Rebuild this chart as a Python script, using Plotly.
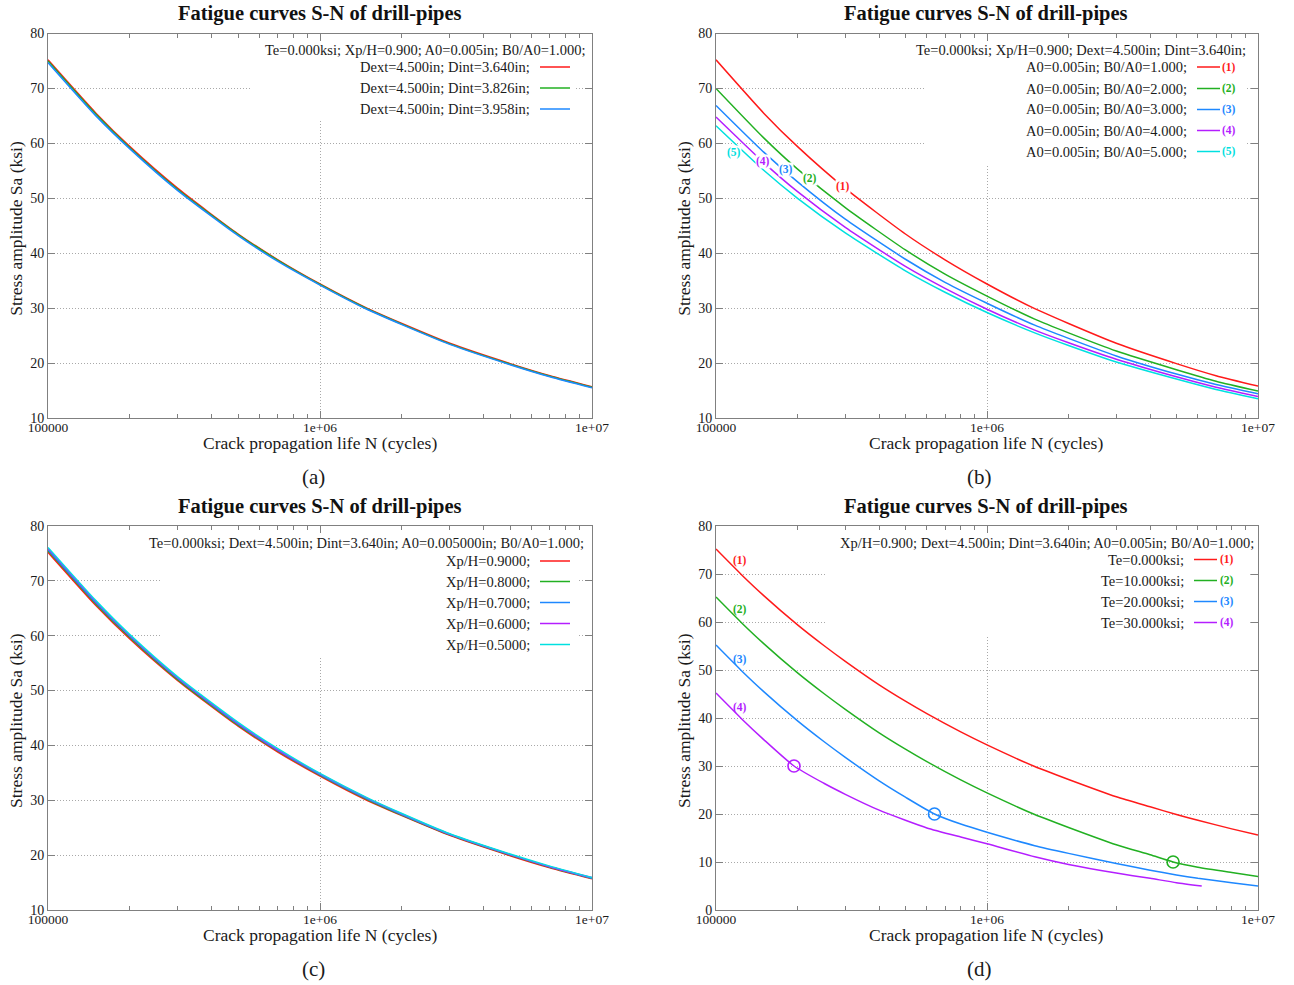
import math
import plotly.graph_objects as go

# The page's default body margin is removed (post_script), so the figure fills the window.
OFF = 0
W, H = 1294, 985
FONT = "Liberation Serif, Times New Roman, serif"
TXT = "#1a1a1a"
COLORS = ["#ff1a1a", "#22b022", "#1e88ff", "#b41eff", "#00e0e0"]

# ---------------- data ----------------
TITLE = "Fatigue curves S-N of drill-pipes"
XTITLE = "Crack propagation life N (cycles)"
YTITLE = "Stress amplitude Sa (ksi)"
X_TICKVALS = [1e5, 1e6, 1e7]
X_TICKTEXT = ["100000", "1e+06", "1e+07"]
CAPTIONS = ["(a)", "(b)", "(c)", "(d)"]

# panel (a)
N_A = [1e5, 1.5e5, 2e5, 3e5, 5e5, 7e5, 1e6, 1.5e6, 2e6, 3e6, 5e6, 7e6, 1e7]
A_S1 = [75.2, 65.5, 59.4, 51.8, 43.5, 38.8, 34.4, 29.9, 27.2, 23.6, 19.9, 17.7, 15.7]
A_S2 = [75.0, 65.3, 59.2, 51.6, 43.4, 38.7, 34.3, 29.8, 27.1, 23.5, 19.8, 17.6, 15.6]
A_S3 = [74.7, 65.0, 59.0, 51.4, 43.2, 38.5, 34.2, 29.7, 27.0, 23.4, 19.7, 17.5, 15.5]
A_KEY_TITLE = "Te=0.000ksi; Xp/H=0.900; A0=0.005in; B0/A0=1.000;"
A_KEYS = ["Dext=4.500in; Dint=3.640in;", "Dext=4.500in; Dint=3.826in;",
          "Dext=4.500in; Dint=3.958in;"]

# panel (b)
N_B = [1e5, 1.5e5, 2e5, 3e5, 5e5, 7e5, 1e6, 1.5e6, 2e6, 3e6, 5e6, 7e6, 1e7]
B_S1 = [75.2, 65.5, 59.4, 51.8, 43.5, 38.8, 34.4, 29.9, 27.2, 23.6, 19.9, 17.7, 15.8]
B_S2 = [70.0, 61.0, 55.3, 48.3, 40.6, 36.2, 32.2, 28.0, 25.5, 22.2, 18.8, 16.7, 14.9]
B_S3 = [66.9, 58.4, 53.0, 46.2, 38.9, 34.7, 30.9, 26.9, 24.5, 21.3, 18.0, 16.1, 14.4]
B_S4 = [64.8, 56.5, 51.2, 44.7, 37.6, 33.6, 29.8, 26.0, 23.7, 20.7, 17.5, 15.6, 13.9]
B_S5 = [63.2, 55.1, 50.0, 43.7, 36.8, 32.9, 29.2, 25.5, 23.2, 20.2, 17.1, 15.2, 13.5]
B_KEY_TITLE = "Te=0.000ksi; Xp/H=0.900; Dext=4.500in; Dint=3.640in;"
B_KEYS = ["A0=0.005in; B0/A0=1.000;", "A0=0.005in; B0/A0=2.000;",
          "A0=0.005in; B0/A0=3.000;", "A0=0.005in; B0/A0=4.000;",
          "A0=0.005in; B0/A0=5.000;"]
B_LABEL_N = [2.94e5, 2.22e5, 1.81e5, 1.49e5, 1.165e5]
B_LABEL_S = [52.2, 53.6, 55.3, 56.7, 58.4]

# panel (c)
N_C = [1e5, 1.5e5, 2e5, 3e5, 5e5, 7e5, 1e6, 1.5e6, 2e6, 3e6, 5e6, 7e6, 1e7]
C_S1 = [75.2, 65.5, 59.4, 51.8, 43.5, 38.8, 34.4, 29.9, 27.2, 23.6, 19.9, 17.7, 15.7]
C_S2 = [75.5, 65.8, 59.7, 52.0, 43.7, 39.0, 34.6, 30.1, 27.3, 23.7, 20.0, 17.8, 15.8]
C_S3 = [75.7, 66.0, 59.9, 52.2, 43.9, 39.1, 34.7, 30.2, 27.4, 23.8, 20.1, 17.9, 15.8]
C_S4 = [75.9, 66.2, 60.0, 52.3, 44.0, 39.2, 34.8, 30.3, 27.5, 23.8, 20.1, 17.9, 15.9]
C_S5 = [76.1, 66.4, 60.2, 52.5, 44.2, 39.4, 34.9, 30.4, 27.6, 23.9, 20.2, 18.0, 15.9]
C_KEY_TITLE = "Te=0.000ksi; Dext=4.500in; Dint=3.640in; A0=0.005000in; B0/A0=1.000;"
C_KEYS = ["Xp/H=0.9000;", "Xp/H=0.8000;", "Xp/H=0.7000;", "Xp/H=0.6000;", "Xp/H=0.5000;"]

# panel (d)
D_N1 = [1e5, 1.25e5, 1.5e5, 2e5, 2.5e5, 3e5, 4e5, 5e5, 6e5, 8e5, 1e6, 1.5e6, 2e6, 3e6, 4e6, 5e6, 6e6, 8e6, 1e7]
D_S1 = [75.2, 69.7, 65.5, 59.4, 55.1, 51.8, 46.9, 43.5, 40.9, 37.1, 34.4, 29.9, 27.2, 23.6, 21.5, 19.9, 18.7, 16.9, 15.6]
D_N2 = [1e5, 1.25e5, 1.5e5, 2e5, 2.5e5, 3e5, 4e5, 5e5, 6e5, 8e5, 1e6, 1.5e6, 2e6, 3e6, 4e6, 4.86e6, 6e6, 8e6, 1e7]
D_S2 = [65.2, 59.7, 55.5, 49.4, 45.1, 41.8, 36.9, 33.5, 30.9, 27.1, 24.4, 19.9, 17.2, 13.6, 11.5, 10.0, 8.9, 7.8, 7.0]
D_N3 = [1e5, 1.25e5, 1.5e5, 2e5, 2.5e5, 3e5, 4e5, 5e5, 6.4e5, 8e5, 1e6, 1.5e6, 2e6, 3e6, 4e6, 5e6, 6e6, 8e6, 1e7]
D_S3 = [55.2, 49.7, 45.5, 39.4, 35.1, 31.8, 26.9, 23.5, 20.0, 17.9, 16.2, 13.4, 11.8, 9.7, 8.3, 7.3, 6.6, 5.7, 5.0]
D_N4 = [1e5, 1.25e5, 1.5e5, 1.94e5, 2.5e5, 3e5, 4e5, 5e5, 6e5, 8e5, 1e6, 1.5e6, 2e6, 3e6, 4e6, 5e6, 6.2e6]
D_S4 = [45.2, 39.7, 35.5, 30.0, 26.4, 24.1, 20.8, 18.7, 17.1, 15.2, 13.8, 11.1, 9.5, 7.7, 6.6, 5.7, 5.0]
D_MARK_N = [4.86e6, 6.4e5, 1.94e5]
D_MARK_S = [10, 20, 30]
D_KEY_TITLE = "Xp/H=0.900; Dext=4.500in; Dint=3.640in; A0=0.005in; B0/A0=1.000;"
D_KEYS = ["Te=0.000ksi;", "Te=10.000ksi;", "Te=20.000ksi;", "Te=30.000ksi;"]
D_LABEL_N = [1.225e5, 1.225e5, 1.23e5, 1.23e5]
D_LABEL_S = [72.8, 62.7, 52.1, 42.1]
LABELS = ["(1)", "(2)", "(3)", "(4)", "(5)"]


# ---------------- layout helpers ----------------
def fx(px):
    return (px - OFF) / W


def fy(py):
    return 1 - (py - OFF) / H


PANELS = [
    dict(xa="x", ya="y", xd=(48, 592), yd=(33.5, 418), yr=(10, 80),
         curves=[(N_A, A_S1), (N_A, A_S2), (N_A, A_S3)],
         ktitle=A_KEY_TITLE, keys=A_KEYS, kt=(588, 50), kend=532,
         kys=[67, 88, 109], kline=(540, 570), klab=None,
         cover=(250, 34, 576, 120), cx=320, top=13),
    dict(xa="x2", ya="y2", xd=(716, 1258), yd=(33.5, 418), yr=(10, 80),
         curves=[(N_B, B_S1), (N_B, B_S2), (N_B, B_S3), (N_B, B_S4), (N_B, B_S5)],
         ktitle=B_KEY_TITLE, keys=B_KEYS, kt=(1248, 50), kend=1189,
         kys=[67, 88.5, 109.5, 130.5, 151.5], kline=(1197, 1220), klab=1229,
         cover=(925, 34, 1247, 165), cx=986, top=13),
    dict(xa="x3", ya="y3", xd=(48, 592), yd=(526, 910), yr=(10, 80),
         curves=[(N_C, C_S1), (N_C, C_S2), (N_C, C_S3), (N_C, C_S4), (N_C, C_S5)],
         ktitle=C_KEY_TITLE, keys=C_KEYS, kt=(586, 543), kend=532,
         kys=[561, 581.5, 602.5, 623.5, 644.5], kline=(540, 570), klab=None,
         cover=(160, 527, 578, 656), cx=320, top=506),
    dict(xa="x4", ya="y4", xd=(716, 1258), yd=(526, 910), yr=(0, 80),
         curves=[(D_N1, D_S1), (D_N2, D_S2), (D_N3, D_S3), (D_N4, D_S4)],
         ktitle=D_KEY_TITLE, keys=D_KEYS, kt=(1256, 542.5), kend=1186,
         kys=[559.5, 580.5, 601.5, 622.5], kline=(1194, 1217), klab=1227,
         cover=(827, 527, 1250, 635), cx=986, top=506),
]

fig = go.Figure()
shapes = []
annotations = []
layout = dict(width=W, height=H,
              margin=dict(l=0, r=0, t=0, b=0, pad=0, autoexpand=False),
              paper_bgcolor="white", plot_bgcolor="white", showlegend=False)

minor_vals = [k * 10 ** e for e in (5, 6) for k in range(2, 10)]
GRID = dict(showgrid=True, gridcolor="#a9a9a9", griddash="1px,2px", gridwidth=1)

for i, p in enumerate(PANELS):
    sfx = "" if i == 0 else str(i + 1)
    xd = [fx(p["xd"][0]), fx(p["xd"][1])]
    yd = [fy(p["yd"][1]), fy(p["yd"][0])]
    layout["xaxis" + sfx] = dict(
        type="log", range=[5, 7], domain=xd, anchor=p["ya"], automargin=False,
        tickmode="array", tickvals=X_TICKVALS, ticktext=X_TICKTEXT,
        ticks="inside", ticklen=7, tickcolor="#808080", tickwidth=1,
        showline=True, linecolor="#808080", linewidth=1, mirror="ticks",
        zeroline=False, tickfont=dict(family=FONT, size=13.5, color=TXT),
        ticklabelstandoff=-3,
        minor=dict(tickmode="array", tickvals=minor_vals, ticks="inside",
                   ticklen=4, tickcolor="#808080", showgrid=False),
        **GRID,
    )
    yt = list(range(int(p["yr"][0]), int(p["yr"][1]) + 1, 10))
    layout["yaxis" + sfx] = dict(
        range=list(p["yr"]), domain=yd, anchor=p["xa"], automargin=False,
        tickmode="array", tickvals=yt,
        ticks="inside", ticklen=7, tickcolor="#808080", tickwidth=1,
        showline=True, linecolor="#808080", linewidth=1, mirror="ticks",
        zeroline=False, tickfont=dict(family=FONT, size=14, color=TXT),
        **GRID,
    )

    # curves
    for j, (nn, ss) in enumerate(p["curves"]):
        fig.add_trace(go.Scatter(
            x=nn, y=ss, mode="lines", xaxis=p["xa"], yaxis=p["ya"],
            line=dict(color=COLORS[j], width=1.5, shape="spline", smoothing=0.6),
            hoverinfo="skip"))

    # opaque key box hiding the grid (between grid and curves)
    x0, y0, x1, y1 = p["cover"]
    dx0, dx1 = p["xd"]
    dy0, dy1 = p["yd"]
    yr0, yr1 = p["yr"]
    fx0 = (x0 - dx0) / (dx1 - dx0)
    fx1 = (x1 - dx0) / (dx1 - dx0)
    fy0 = 1 - (y1 - dy0) / (dy1 - dy0)
    fy1 = 1 - (y0 - dy0) / (dy1 - dy0)
    shapes.append(dict(
        type="rect", layer="between", xref=p["xa"], yref=p["ya"],
        x0=10 ** (5 + 2 * fx0), x1=10 ** (5 + 2 * fx1),
        y0=yr0 + fy0 * (yr1 - yr0), y1=yr0 + fy1 * (yr1 - yr0),
        fillcolor="white", line=dict(width=0)))

    # key
    annotations.append(dict(
        text=p["ktitle"], xref="paper", yref="paper", x=fx(p["kt"][0]), y=fy(p["kt"][1]),
        xanchor="right", yanchor="middle", showarrow=False,
        font=dict(family=FONT, size=14.5, color=TXT)))
    for j, (label, ky) in enumerate(zip(p["keys"], p["kys"])):
        annotations.append(dict(
            text=label, xref="paper", yref="paper", x=fx(p["kend"]), y=fy(ky),
            xanchor="right", yanchor="middle", showarrow=False,
            font=dict(family=FONT, size=14.5, color=TXT)))
        shapes.append(dict(
            type="line", xref="paper", yref="paper",
            x0=fx(p["kline"][0]), x1=fx(p["kline"][1]), y0=fy(ky), y1=fy(ky),
            line=dict(color=COLORS[j], width=1.5)))
        if p["klab"] is not None:
            annotations.append(dict(
                text="<b>" + LABELS[j] + "</b>", xref="paper", yref="paper",
                x=fx(p["klab"]), y=fy(ky), xanchor="center", yanchor="middle",
                showarrow=False, font=dict(family=FONT, size=11.5, color=COLORS[j])))

    # titles
    annotations.append(dict(
        text="<b>" + TITLE + "</b>", xref="paper", yref="paper", x=fx(p["cx"]), y=fy(p["top"]),
        xanchor="center", yanchor="middle", showarrow=False,
        font=dict(family=FONT, size=20.5, color="#111111")))
    annotations.append(dict(
        text=XTITLE, xref="paper", yref="paper", x=fx(p["cx"]), y=fy(p["yd"][1] + 25),
        xanchor="center", yanchor="middle", showarrow=False,
        font=dict(family=FONT, size=17.5, color=TXT)))
    annotations.append(dict(
        text=YTITLE, xref="paper", yref="paper", x=fx(p["xd"][0] - 32),
        y=fy((p["yd"][0] + p["yd"][1]) / 2 + 3), textangle=-90,
        xanchor="center", yanchor="middle", showarrow=False,
        font=dict(family=FONT, size=17.5, color=TXT)))
    annotations.append(dict(
        text=CAPTIONS[i], xref="paper", yref="paper", x=fx(p["cx"] - 7), y=fy(p["yd"][1] + 59),
        xanchor="center", yanchor="middle", showarrow=False,
        font=dict(family=FONT, size=21, color=TXT)))

# on-curve labels, panel (b)
for j in range(5):
    annotations.append(dict(
        text="<b>" + LABELS[j] + "</b>", xref="x2", yref="y2",
        x=math.log10(B_LABEL_N[j]), y=B_LABEL_S[j], showarrow=False,
        xanchor="center", yanchor="middle", bgcolor="white", borderpad=0,
        font=dict(family=FONT, size=11.5, color=COLORS[j])))
# on-curve labels, panel (d)
for j in range(4):
    annotations.append(dict(
        text="<b>" + LABELS[j] + "</b>", xref="x4", yref="y4",
        x=math.log10(D_LABEL_N[j]), y=D_LABEL_S[j], showarrow=False,
        xanchor="center", yanchor="middle",
        font=dict(family=FONT, size=11.5, color=COLORS[j])))

# circles in panel (d)
fig.add_trace(go.Scatter(
    x=D_MARK_N, y=D_MARK_S, mode="markers", xaxis="x4", yaxis="y4",
    marker=dict(symbol="circle-open", size=12, color=COLORS[1:4],
                line=dict(width=1.6, color=COLORS[1:4])),
    hoverinfo="skip"))

layout["shapes"] = shapes
layout["annotations"] = annotations
fig.update_layout(**layout)
fig.write_html("out.html",
               config={"displayModeBar": False, "staticPlot": True},
               post_script="document.body.style.margin='0px';"
                           "document.body.style.overflow='hidden';")
